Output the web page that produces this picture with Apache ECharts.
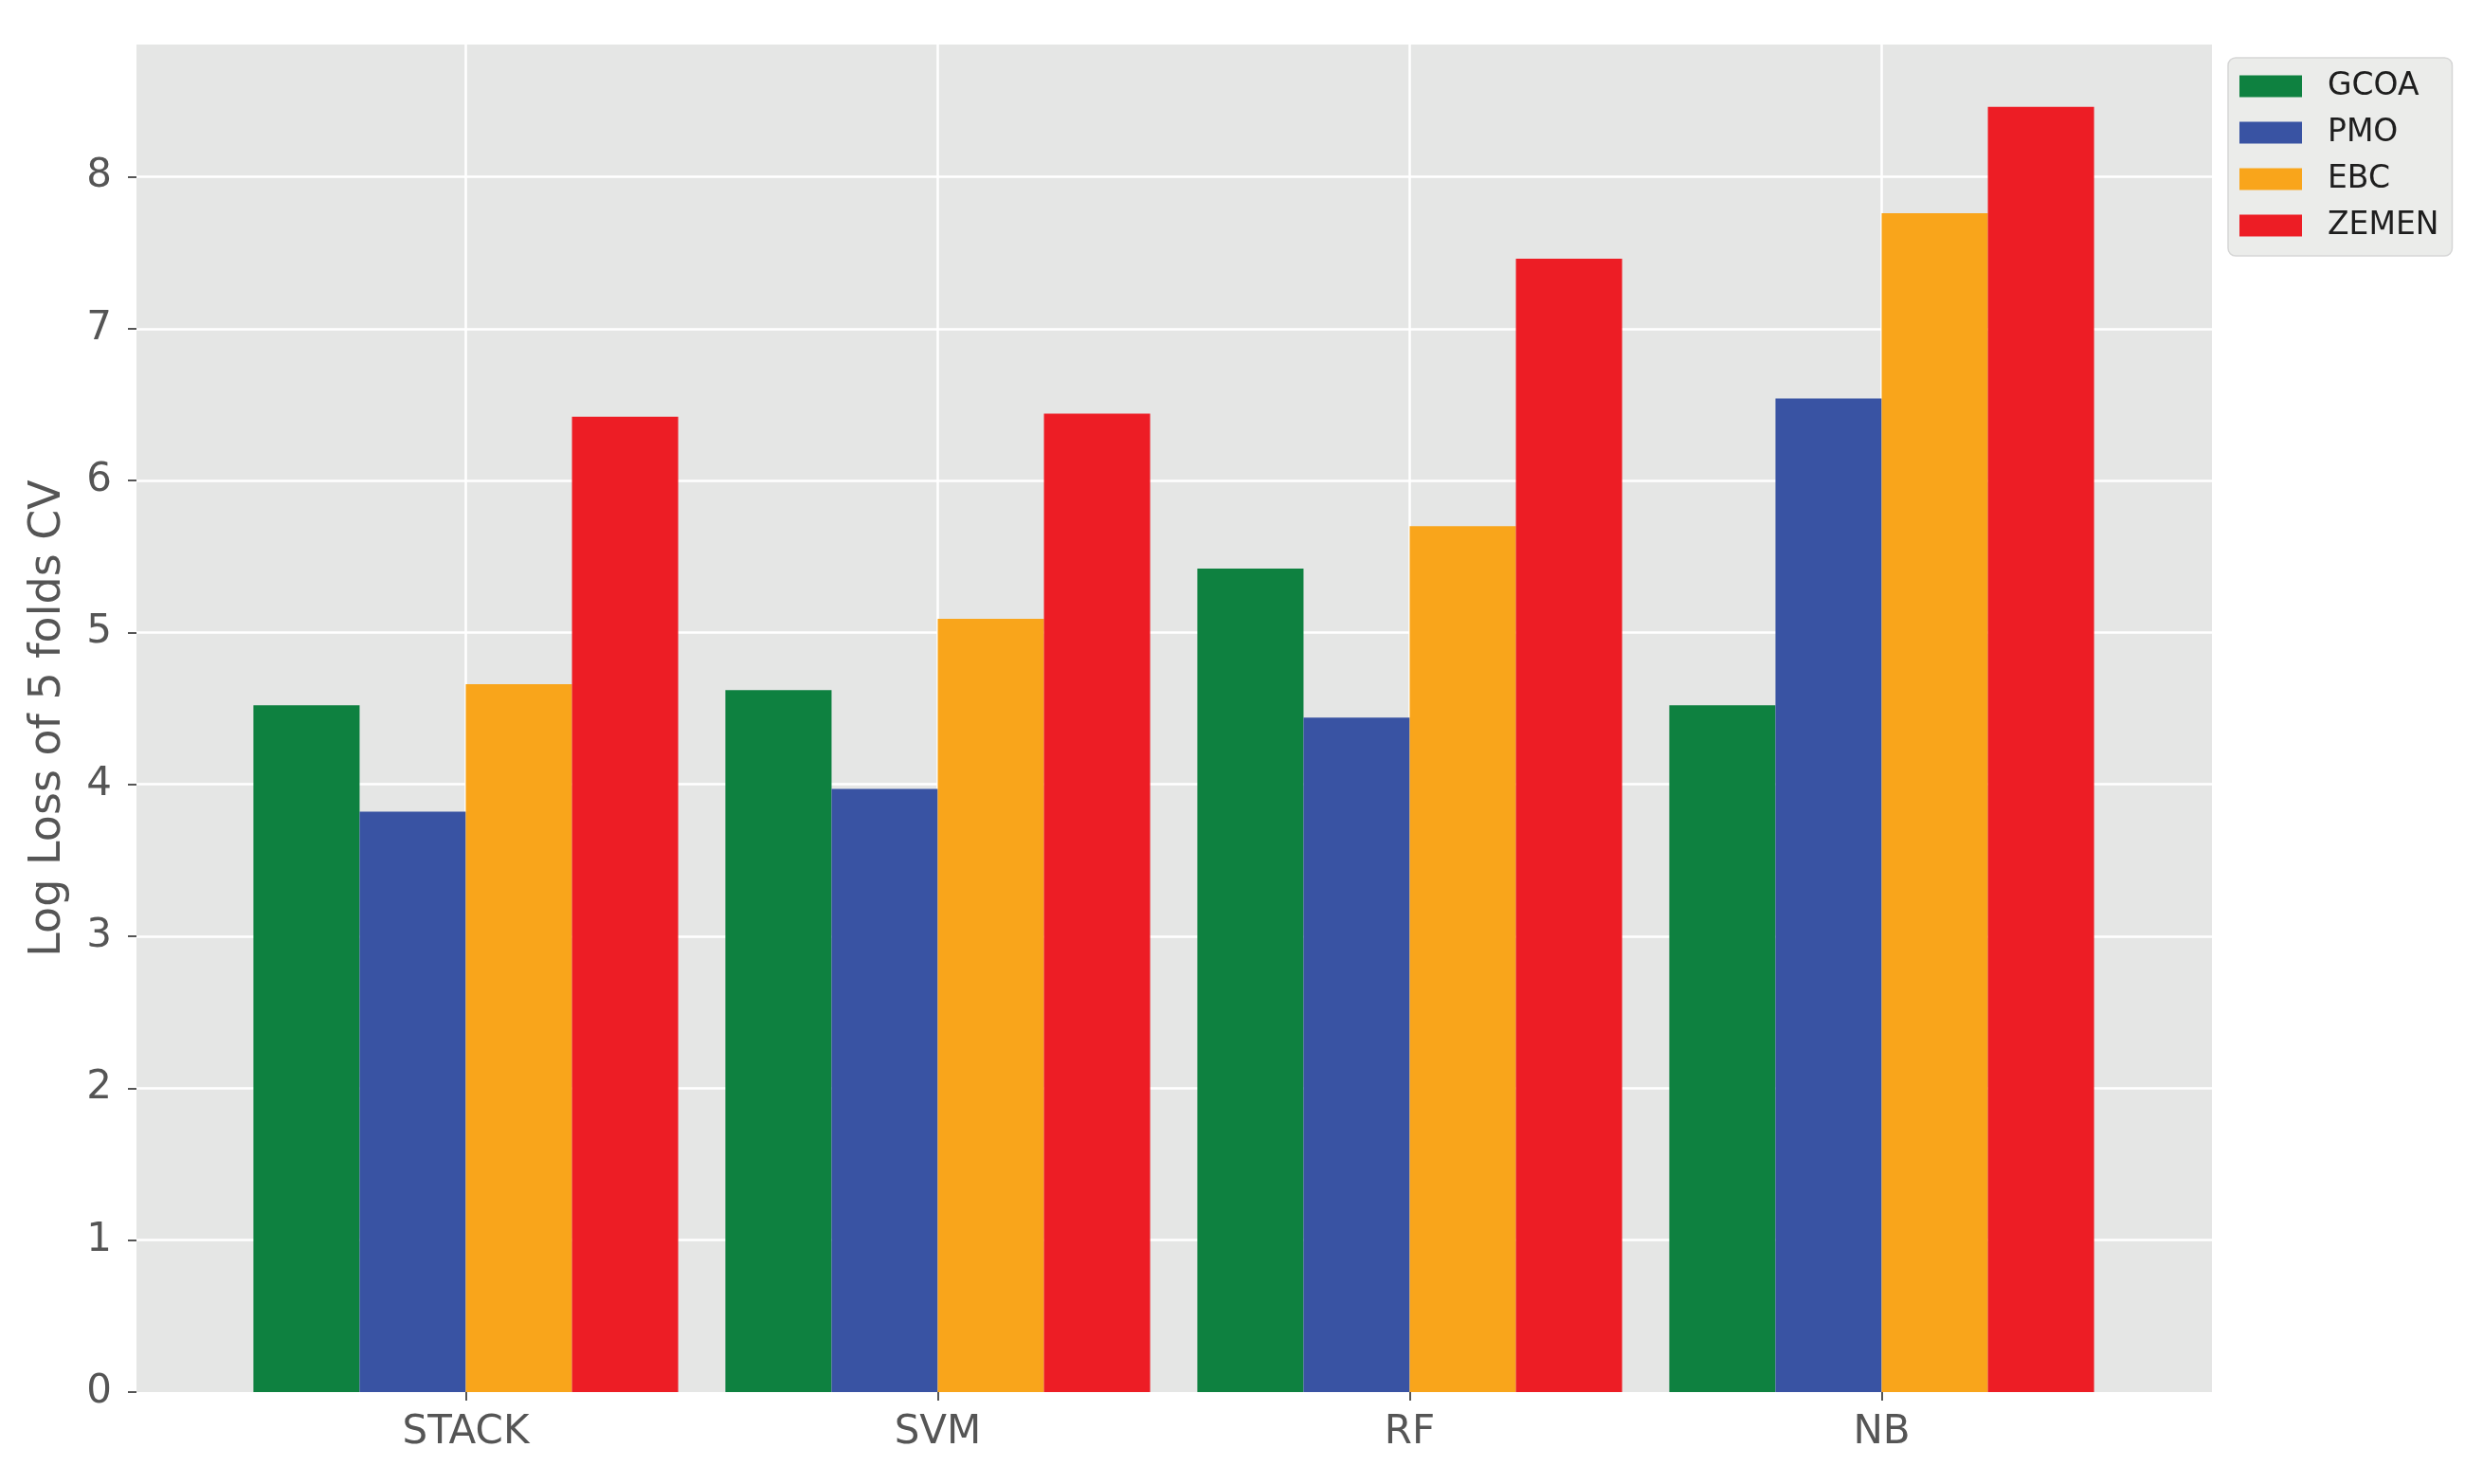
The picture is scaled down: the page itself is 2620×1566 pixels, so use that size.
<!DOCTYPE html>
<html>
<head>
<meta charset="utf-8">
<script src="https://cdn.jsdelivr.net/npm/echarts@6/dist/echarts.min.js"></script>
<style>
html,body{margin:0;padding:0;background:#fff;}
#chart{width:2620px;height:1566px;}
</style>
</head>
<body>
<div id="chart"></div>
<script>
const categories = ['STACK', 'SVM', 'RF', 'NB'];
const seriesNames = ['GCOA', 'PMO', 'EBC', 'ZEMEN'];
const gcoa  = [4.52, 4.62, 5.42, 4.52];
const pmo   = [3.82, 3.97, 4.44, 6.54];
const ebc   = [4.66, 5.09, 5.70, 7.76];
const zemen = [6.42, 6.44, 7.46, 8.46];
const yTicks = [0, 1, 2, 3, 4, 5, 6, 7, 8];
const yMax = 8.87;

const colors = ['#0e8140', '#3953a3', '#f9a51b', '#ed1d25'];
const seriesData = [gcoa, pmo, ebc, zemen];
const FONT = 'DejaVu Sans';

const chart = echarts.init(document.getElementById('chart'), null, {renderer: 'canvas'});
const option = {
  animation: false,
  backgroundColor: '#ffffff',
  grid: [
    {left: 144, right: 286, top: 47, bottom: 97, show: true, backgroundColor: '#e5e6e5', borderWidth: 0, outerBoundsMode: 'none', containLabel: false},
    {left: 491.5, right: 634.5, top: 47, bottom: 97, show: false, outerBoundsMode: 'none', containLabel: false}
  ],
  xAxis: [
    {gridIndex: 0, type: 'value', min: 0, max: 1, show: false},
    {
      gridIndex: 1, type: 'category', data: categories, boundaryGap: false,
      axisLine: {show: false},
      axisTick: {show: true, length: 9, lineStyle: {color: '#555555', width: 2}},
      axisLabel: {margin: 22, fontSize: 42, color: '#555555', fontFamily: FONT},
      splitLine: {show: true, lineStyle: {color: '#ffffff', width: 2.5}}
    }
  ],
  yAxis: [
    {
      gridIndex: 0, type: 'value', min: 0, max: yMax, interval: 1,
      name: 'Log Loss of 5 folds CV', nameLocation: 'middle', nameGap: 70,
      nameTextStyle: {fontSize: 46, color: '#555555', fontFamily: FONT},
      axisLine: {show: false},
      axisTick: {show: true, length: 9, customValues: yTicks, lineStyle: {color: '#555555', width: 2}},
      axisLabel: {margin: 26, fontSize: 42, color: '#555555', fontFamily: FONT, customValues: yTicks},
      splitLine: {show: true, showMinLine: false, lineStyle: {color: '#ffffff', width: 2.5}}
    },
    {gridIndex: 1, type: 'value', min: 0, max: yMax, show: false, splitLine: {show: false}}
  ],
  legend: {
    orient: 'vertical', left: 2351, top: 61,
    data: seriesNames,
    icon: 'rect', itemWidth: 66, itemHeight: 23, itemGap: 13,
    padding: [12, 14, 14, 12],
    backgroundColor: '#ebecea', borderColor: '#d6d6d6', borderWidth: 1.5, borderRadius: 8,
    itemStyle: {borderWidth: 0},
    textStyle: {fontSize: 33, color: '#1e1e1e', fontFamily: FONT, lineHeight: 36, padding: [0, 0, 0, 22]}
  },
  series: seriesNames.map((name, i) => ({
    name: name, type: 'bar', xAxisIndex: 1, yAxisIndex: 1,
    data: seriesData[i], barGap: '0%', barCategoryGap: '10%', clip: false,
    itemStyle: {color: colors[i], borderWidth: 0}
  }))
};
chart.setOption(option);
</script>
</body>
</html>
